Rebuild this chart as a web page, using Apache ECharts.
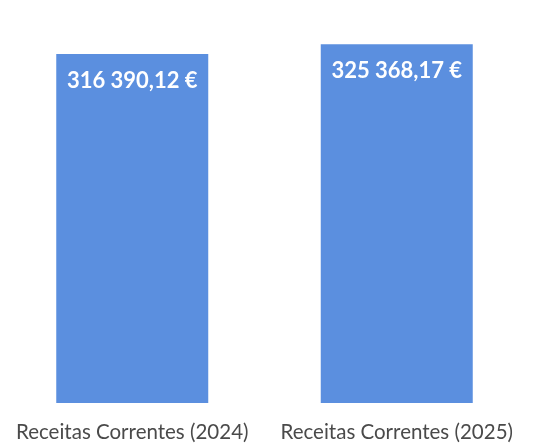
<!DOCTYPE html>
<html>
<head>
<meta charset="utf-8">
<script src="https://cdn.jsdelivr.net/npm/echarts@6/dist/echarts.min.js"></script>
<style>
  html, body { margin: 0; padding: 0; background: #fff; }
  #chart { width: 544px; height: 445px; }
</style>
</head>
<body>
<div id="chart"></div>
<script>
// dados
const categories = ["Receitas Correntes (2024)", "Receitas Correntes (2025)"];
const values = [316390.12, 325368.17];

function fmtEuro(v) {
  // 316 390,12 €
  let parts = v.toFixed(2).split(".");
  let int = parts[0].replace(/\B(?=(\d{3})+(?!\d))/g, " ");
  return int + "," + parts[1] + " €";
}

let chart = echarts.init(document.getElementById("chart"));
let option = {
  animation: false,
  grid: {
    top: 17,
    bottom: 42,
    left: -7,
    right: 15
  },
  xAxis: {
    type: "category",
    data: categories,
    axisLine: { show: false },
    axisTick: { show: false },
    axisLabel: {
      color: "#4a4a4a",
      fontFamily: "Lato",
      fontSize: 20.5,
      margin: 19,
      interval: 0
    }
  },
  yAxis: {
    type: "value",
    min: 0,
    max: 350000,
    show: false
  },
  series: [
    {
      type: "bar",
      data: values,
      barWidth: 152,
      itemStyle: { color: "#5b8fdf" },
      label: {
        show: true,
        position: "insideTop",
        distance: 16,
        color: "#fff",
        fontFamily: "Lato",
        fontWeight: "bold",
        fontSize: 22,
        formatter: function (p) { return fmtEuro(p.value); }
      }
    }
  ]
};
chart.setOption(option);
</script>
</body>
</html>
